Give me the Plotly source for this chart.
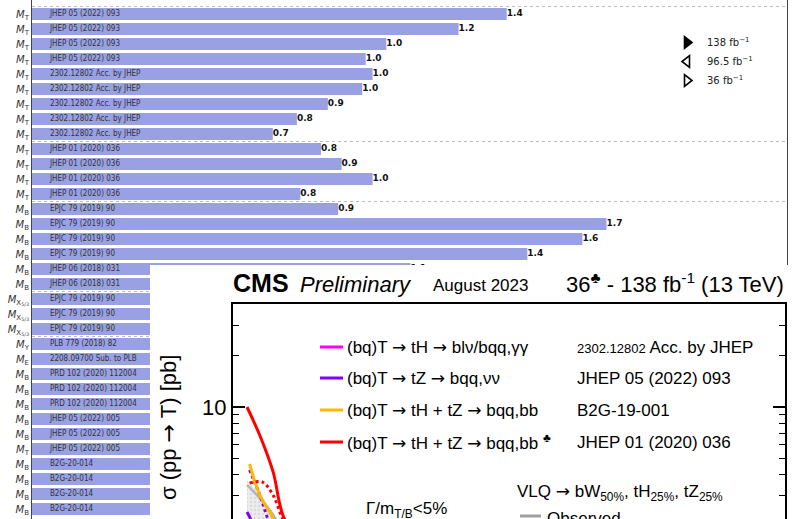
import plotly.graph_objects as go

W, H = 797, 519

# ---------------- mass-limit summary (TeV) ----------------
particles = (["T"] * 13 + ["B"] * 6 + ["X53"] * 3 + ["Y", "E"]
             + ["B"] * 5 + ["T"] + ["B"] * 4)
references = (
    ["JHEP 05 (2022) 093"] * 4
    + ["2302.12802 Acc. by JHEP"] * 5
    + ["JHEP 01 (2020) 036"] * 4
    + ["EPJC 79 (2019) 90"] * 4
    + ["JHEP 06 (2018) 031"] * 2
    + ["EPJC 79 (2019) 90"] * 3
    + ["PLB 779 (2018) 82", "2208.09700 Sub. to PLB"]
    + ["PRD 102 (2020) 112004"] * 3
    + ["JHEP 05 (2022) 005"] * 3
    + ["B2G-20-014"] * 4
)
limits = [1.38, 1.24, 1.03, 0.97,
          0.99, 0.96, 0.86, 0.77, 0.70,
          0.84, 0.90, 0.99, 0.78,
          0.89, 1.67, 1.60, 1.44,
          1.10, 1.02,
          1.33, 1.30, 1.26,
          1.45, 1.02,
          1.19, 1.37, 1.05,
          1.50, 1.49, 1.48,
          1.41, 1.35, 1.12, 1.02]
group_breaks = [-0.5, 8.5, 12.5, 18.5, 21.5]
lumi_labels = ["138 fb<sup>\u22121</sup>", "96.5 fb<sup>\u22121</sup>", "36 fb<sup>\u22121</sup>"]
lumi_symbols = ["triangle-right", "triangle-left-open", "triangle-right-open"]

tick_names = {
    "T": "<i>M</i><sub>T</sub>",
    "B": "<i>M</i><sub>B</sub>",
    "X53": "<i>M</i><sub>X<sub>5/3</sub></sub>",
    "Y": "<i>M</i><sub>Y</sub>",
    "E": "<i>M</i><sub>E</sub>",
}

# ---------------- single-VLQ cross-section limits (pb) ----------------
mass = {
    "red": [0.638, 0.673, 0.709, 0.736, 0.78],
    "red_dot": [0.645, 0.68, 0.709, 0.733, 0.77],
    "orange": [0.645, 0.673, 0.709, 0.74],
    "purple_dot": [0.645, 0.673, 0.694, 0.72],
    "purple": [0.638, 0.648, 0.66],
    "gray": [0.638, 0.673, 0.709, 0.74],
}
xsec = {
    "red": [10.0, 6.8, 4.15, 2.3, 1.6],
    "red_dot": [3.57, 3.62, 3.03, 2.25, 1.6],
    "orange": [4.62, 3.03, 2.22, 1.6],
    "purple_dot": [4.26, 3.03, 2.22, 1.6],
    "purple": [2.41, 2.19, 1.9],
    "gray": [3.48, 2.9, 2.32, 1.7],
}
band_mass = [0.638, 0.673, 0.709, 0.75, 0.75, 0.709, 0.673, 0.638]
band_xsec = [3.7, 3.1, 2.4, 1.8, 1.5, 1.6, 2.0, 2.4]

def px(x):
    return x / W

def py(y):
    return 1 - y / H

rows = list(range(len(limits)))
bar_color = "#99a1e4"
txt_font = "DejaVu Sans Condensed, DejaVu Sans, sans-serif"
cms_font = "Liberation Sans, Arial, sans-serif"
ARROW = "<span style='font-family:DejaVu Sans'>\u2192</span>"

fig = go.Figure()

# summary bars
fig.add_trace(go.Bar(
    x=limits, y=rows, orientation="h", width=0.8,
    marker=dict(color=bar_color, line=dict(width=0)),
    showlegend=False, hoverinfo="skip", xaxis="x", yaxis="y",
))
fig.add_trace(go.Scatter(
    x=[0.052] * len(rows), y=rows, mode="text", text=references,
    textposition="middle right",
    textfont=dict(family=txt_font, size=8, color="#333333"),
    showlegend=False, hoverinfo="skip", xaxis="x", yaxis="y", cliponaxis=True,
))
fig.add_trace(go.Scatter(
    x=limits, y=rows, mode="text", text=[f"{v:.1f}" for v in limits],
    textposition="middle right",
    textfont=dict(family="DejaVu Sans, sans-serif", size=9, color="#111111",
                  weight="bold"),
    showlegend=False, hoverinfo="skip", xaxis="x", yaxis="y", cliponaxis=True,
))
for lab, sym in zip(lumi_labels, lumi_symbols):
    fig.add_trace(go.Scatter(
        x=[None], y=[None], mode="markers", name=lab,
        marker=dict(symbol=sym, size=10, color="black",
                    line=dict(color="black", width=1.6)),
        xaxis="x", yaxis="y",
    ))

for b in group_breaks:
    fig.add_shape(type="line", xref="x", yref="y", x0=0, x1=2.3, y0=b, y1=b,
                  line=dict(color="#bbbbbb", width=1, dash="dot"), layer="below")

# white panel that carries the cross-section plot
fig.add_trace(go.Scatter(x=[None], y=[None], xaxis="x2", yaxis="y2",
                         showlegend=False, hoverinfo="skip"))

# cross-section limits
fig.add_trace(go.Scatter(
    x=band_mass, y=band_xsec, fill="toself", mode="none",
    fillcolor="rgba(225,225,225,0.6)",
    fillpattern=dict(shape=".", fgcolor="#c8c8c8", size=4, solidity=0.3),
    xaxis="x3", yaxis="y3", showlegend=False, hoverinfo="skip"))
styles = {
    "gray": dict(color="#b5b5b5", width=2.5),
    "purple": dict(color="#8000ff", width=3),
    "purple_dot": dict(color="#8000ff", width=3, dash="dot"),
    "orange": dict(color="#ffb700", width=3),
    "red_dot": dict(color="#ff0000", width=3, dash="dot"),
    "red": dict(color="#ff0000", width=3),
}
for key, st in styles.items():
    fig.add_trace(go.Scatter(x=mass[key], y=xsec[key], mode="lines",
                             line=st, line_shape="spline",
                             xaxis="x3", yaxis="y3", showlegend=False,
                             hoverinfo="skip"))

fig.update_layout(
    width=W, height=H, margin=dict(l=0, r=0, t=0, b=0),
    paper_bgcolor="white", plot_bgcolor="white",
    xaxis=dict(domain=[px(32), px(787)], range=[0, 755 / 344], side="top",
               showline=True, linecolor="#9a9a9a", linewidth=1, mirror=False,
               showgrid=False, zeroline=False, showticklabels=False, ticks="",
               anchor="y"),
    yaxis=dict(domain=[0, 1], range=[(519 - 14) / 15, -14 / 15],
               tickmode="array", tickvals=rows,
               ticktext=[tick_names[p] for p in particles],
               tickfont=dict(family="DejaVu Sans, sans-serif", size=10,
                             color="#333333"),
               showline=True, linecolor="#444444", linewidth=1, mirror=True,
               showgrid=False, zeroline=False, ticks="", anchor="x"),
    xaxis2=dict(domain=[px(150), 1], range=[0, 1], visible=False, anchor="y2"),
    yaxis2=dict(domain=[0, py(265)], range=[0, 1], visible=False, anchor="x2"),
    xaxis3=dict(domain=[px(233), px(785)], range=[0.6, 2.1], side="top",
                showline=True, linecolor="black", linewidth=2,
                showgrid=False, zeroline=False, showticklabels=False,
                ticks="", anchor="y3"),
    yaxis3=dict(domain=[0, py(304)], type="log",
                range=[1 - (519 - 407) / 170, 1 + (407 - 304) / 170],
                tickmode="array", tickvals=[10], ticktext=["10"],
                ticks="inside", ticklen=12, tickwidth=1.5, tickcolor="black",
                minor=dict(tickmode="array",
                           tickvals=[2, 3, 4, 5, 6, 7, 8, 9, 20, 30, 40],
                           ticks="inside", ticklen=6, tickwidth=1.2,
                           tickcolor="black"),
                tickfont=dict(family=cms_font, size=22, color="black"),
                showline=True, linecolor="black", linewidth=2, mirror="ticks",
                showgrid=False, zeroline=False, anchor="x3"),
    legend=dict(x=px(667), y=py(28), xanchor="left", yanchor="top",
                font=dict(family="DejaVu Sans, sans-serif", size=10,
                          color="#222222"),
                bgcolor="rgba(0,0,0,0)", tracegroupgap=0),
    showlegend=True,
)

ann = []

def note(x, y, text, size, xanchor="left", angle=0, family=cms_font):
    ann.append(dict(x=px(x), y=py(y), xref="paper", yref="paper", text=text,
                    showarrow=False, xanchor=xanchor, yanchor="middle",
                    textangle=angle,
                    font=dict(family=family, size=size, color="black")))

note(231, 283, "<b>CMS</b>", 25)
note(298, 284, "<i>Preliminary</i>", 22)
note(431, 285, "August 2023", 17)
note(786, 283, "36<sup>\u2663</sup> - 138 fb<sup>-1</sup> (13 TeV)", 22,
     xanchor="right")
note(168, 428, "\u03c3 (pp " + ARROW + " T) [pb]", 22, xanchor="center", angle=-90)

leg_colors = ["#ff00ff", "#8000ff", "#ffb700", "#ff0000"]
leg_y = [347, 378, 410, 442]
leg_text = [
    "(bq)T " + ARROW + " tH " + ARROW + " bl\u03bd/bqq,\u03b3\u03b3",
    "(bq)T " + ARROW + " tZ " + ARROW + " bqq,\u03bd\u03bd",
    "(bq)T " + ARROW + " tH + tZ " + ARROW + " bqq,bb",
    "(bq)T " + ARROW + " tH + tZ " + ARROW + " bqq,bb <sup>\u2663</sup>",
]
leg_ref = [
    "<span style='font-size:13px'>2302.12802</span> Acc. by JHEP",
    "JHEP 05 (2022) 093",
    "B2G-19-001",
    "JHEP 01 (2020) 036",
]
for c, y, t, r in zip(leg_colors, leg_y, leg_text, leg_ref):
    fig.add_shape(type="line", xref="paper", yref="paper",
                  x0=px(320), x1=px(343), y0=py(y), y1=py(y),
                  line=dict(color=c, width=3), layer="above")
    note(345, y, t, 17)
    note(575, y, r, 17)

note(515, 492, "VLQ " + ARROW + " bW<sub>50%</sub>, tH<sub>25%</sub>, tZ<sub>25%</sub>", 17)
fig.add_shape(type="line", xref="paper", yref="paper",
              x0=px(520), x1=px(541), y0=py(516), y1=py(516),
              line=dict(color="#a0a0a0", width=3), layer="above")
note(545, 518, "Observed", 17)
note(364, 510, "\u0393/m<sub>T/B</sub>&lt;5%", 17)

fig.update_layout(annotations=ann)

fig.write_html("out.html")
